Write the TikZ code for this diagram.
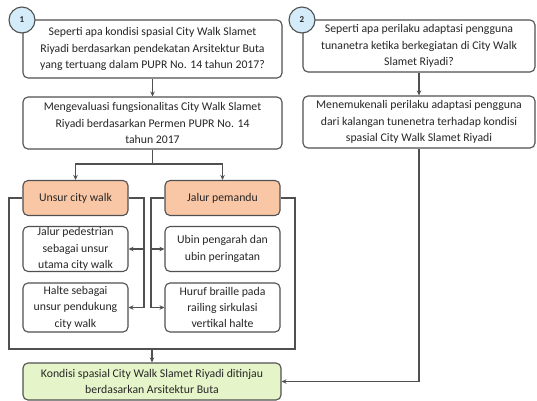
\documentclass[tikz,border=0pt]{standalone}
\usepackage{fontspec}
\setmainfont{Carlito}
\usetikzlibrary{arrows.meta}
\definecolor{linec}{HTML}{505050}
\definecolor{txtc}{HTML}{262626}
\definecolor{orangef}{HTML}{F9C7A6}
\definecolor{greenf}{HTML}{E6F5C9}
\definecolor{bluef}{HTML}{D4EBFA}
\tikzset{
  box/.style={draw=linec, line width=1.1bp, rounded corners=5bp, fill=white, align=center,
    text=txtc, font=\fontsize{11.8}{16.5}\selectfont, inner sep=0pt},
  arr/.style={draw=linec, line width=1.1bp, -{Stealth[length=5bp,width=4.5bp]}},
  ln/.style={draw=linec, line width=1.1bp},
  num/.style={circle, draw=linec, line width=1.1bp, fill=bluef, minimum size=26bp,
    inner sep=0pt, text=txtc, font=\fontsize{9}{9}\selectfont\bfseries}
}
\begin{document}
\begin{tikzpicture}[x=1bp,y=-1bp]
\useasboundingbox (0,0) rectangle (537,400);
% left column
\node[box, minimum width=259bp, minimum height=58bp] (q1) at (152.5,49)
  {Seperti apa kondisi spasial City Walk Slamet\\Riyadi berdasarkan pendekatan Arsitektur Buta\\yang tertuang dalam PUPR No. 14 tahun 2017?};
\node[num] (n1) at (22,20) {1};
\node[box, minimum width=259bp, minimum height=52bp] (m1) at (152.5,123)
  {Mengevaluasi fungsionalitas City Walk Slamet\\Riyadi berdasarkan Permen PUPR No. 14\\tahun 2017};
\node[box, fill=orangef, minimum width=105bp, minimum height=35bp] (u1) at (75.5,198) {Unsur city walk};
\node[box, fill=orangef, minimum width=115bp, minimum height=35bp] (j1) at (222.5,198) {Jalur pemandu};
\node[box, minimum width=105bp, minimum height=45bp] (w1) at (75.5,249)
  {Jalur pedestrian\\sebagai unsur\\utama city walk};
\node[box, minimum width=105bp, minimum height=49bp] (w2) at (75.5,307.5)
  {Halte sebagai\\unsur pendukung\\city walk};
\node[box, minimum width=115bp, minimum height=45bp] (v1) at (222.5,249)
  {Ubin pengarah dan\\ubin peringatan};
\node[box, minimum width=115bp, minimum height=49bp] (v2) at (222.5,307.5)
  {Huruf braille pada\\railing sirkulasi\\vertikal halte};
\node[box, fill=greenf, minimum width=258bp, minimum height=37bp] (g) at (152,381.5)
  {Kondisi spasial City Walk Slamet Riyadi ditinjau\\berdasarkan Arsitektur Buta};
% right column
\node[box, minimum width=232bp, minimum height=52bp] (q2) at (419,46)
  {Seperti apa perilaku adaptasi pengguna\\tunanetra ketika berkegiatan di City Walk\\Slamet Riyadi?};
\node[num] (n2) at (302,20) {2};
\node[box, minimum width=232bp, minimum height=52bp] (m2) at (419,122)
  {Menemukenali perilaku adaptasi pengguna\\dari kalangan tunenetra terhadap kondisi\\spasial City Walk Slamet Riyadi};
% connectors
\draw[arr] (q1) -- (m1);
\coordinate (f) at (152.5,164);
\draw[ln] (m1.south) -- (f);
\draw[arr] (f) -| (u1.north);
\draw[arr] (f) -| (j1.north);
\coordinate (lb) at (144,307.5);
\coordinate (rb) at (151,307.5);
\draw[ln] (u1.east) -| (lb);
\draw[ln] (j1.west) -| (rb);
\draw[arr] (w1.east -| lb) -- (w1.east);
\draw[arr] (lb) -- (w2.east);
\draw[arr] (v1.west -| rb) -- (v1.west);
\draw[arr] (rb) -- (v2.west);
\coordinate (c1) at (9,349);
\coordinate (c2) at (295,349);
\draw[ln] (u1.west) -| (c1) -- (c2) |- (j1.east);
\coordinate (bm) at (152,349);
\draw[arr] (bm) -- (g.north);
\draw[arr] (q2) -- (m2);
\draw[arr] (m2.south) |- (g.east);
\end{tikzpicture}
\end{document}
